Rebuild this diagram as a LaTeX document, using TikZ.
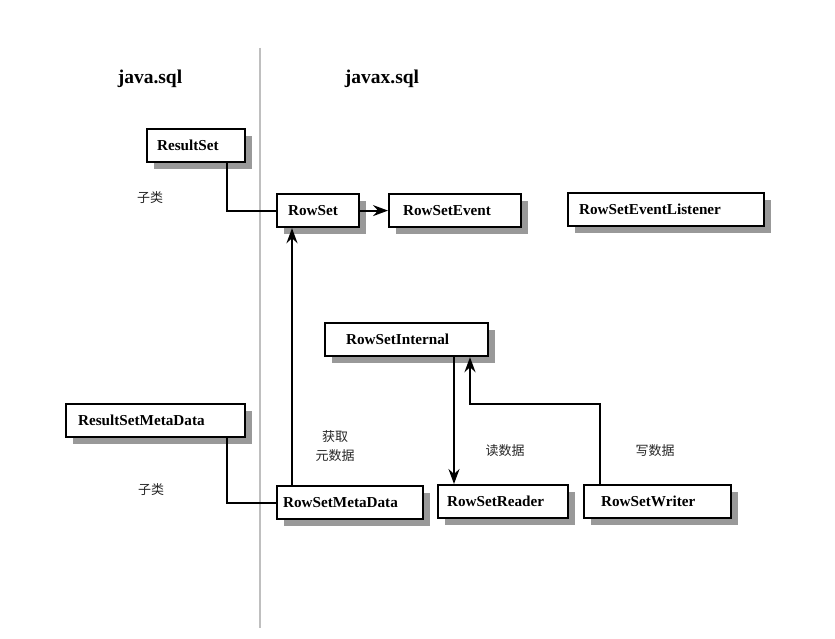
\documentclass[tikz,border=0pt]{standalone}
\usepackage{fontspec}
\setmainfont{Liberation Serif}
\newfontfamily\cjk{Noto Sans CJK SC}
\usetikzlibrary{arrows.meta,shadows}
\begin{document}
\begin{tikzpicture}[x=1pt,y=-1pt,
  cls/.style={draw, line width=2.2pt, fill=white, anchor=north west,
    minimum height=33pt, inner ysep=0pt, align=left,
    font=\fontsize{15.2}{17}\selectfont\bfseries,
    drop shadow={shadow xshift=7pt, shadow yshift=-7pt, fill=black!40, opacity=1}},
  conn/.style={line width=2pt},
  arr/.style={conn, -{Stealth[length=15pt,width=11pt,inset=5pt]}},
  note/.style={font=\cjk\fontsize{13}{19}\selectfont, text=black!85, align=center},
  pkg/.style={font=\fontsize{19.5}{22}\selectfont\bfseries}]
  % canvas
  \path[use as bounding box, fill=white] (0,0) rectangle (835,639);

  % package divider
  \draw[line width=2pt, black!25] (260,48) -- (260,628);

  % package headings
  \node[pkg] (hjava) at (150,79) {java.sql};
  \node[pkg] (hjavax) at (382,79) {javax.sql};

  % interfaces
  \node[cls, inner xsep=10pt, text width=78pt]  (rs)     at (146,128) {ResultSet};
  \node[cls, inner xsep=11pt, text width=60pt]  (rowset) at (276,193) {RowSet};
  \node[cls, inner xsep=14pt, text width=104pt] (rse)    at (388,193) {RowSetEvent};
  \node[cls, inner xsep=11pt, text width=174pt] (rsel)   at (567,192) {RowSetEventListener};
  \node[cls, inner xsep=21pt, text width=121pt] (rsi)    at (324,322) {RowSetInternal};
  \node[cls, inner xsep=12pt, text width=155pt] (rsmd)   at (65,403)  {ResultSetMetaData};
  \node[cls, inner xsep=6pt,  text width=134pt] (rsmeta) at (276,485) {RowSetMetaData};
  \node[cls, inner xsep=9pt,  text width=112pt] (reader) at (437,484) {RowSetReader};
  \node[cls, inner xsep=17pt, text width=113pt] (writer) at (583,484) {RowSetWriter};

  % connector columns
  \coordinate (xa) at (292,0);
  \coordinate (xb) at (454,0);
  \coordinate (xc) at (600,0);
  \coordinate (xd) at (470,404);
  \coordinate (xe) at (227,0);

  % connectors
  \draw[conn] (rs.south -| xe) |- (rowset.west);
  \draw[arr] (rowset.east) -- (rse.west);
  \draw[arr] (rsmeta.north -| xa) -- (rowset.south -| xa);
  \draw[arr] (rsi.south -| xb) -- (reader.north -| xb);
  \draw[arr] (writer.north -| xc) |- (xd) -- (rsi.south -| xd);
  \draw[conn] (rsmd.south -| xe) |- (rsmeta.west);

  % annotations
  \node[note] (n1) at (150,198) {子类};
  \node[note] (n2) at (151,490) {子类};
  \node[note] (n3) at (335,446) {获取\\元数据};
  \node[note] (n4) at (505,451) {读数据};
  \node[note] (n5) at (655,451) {写数据};
\end{tikzpicture}
\end{document}
